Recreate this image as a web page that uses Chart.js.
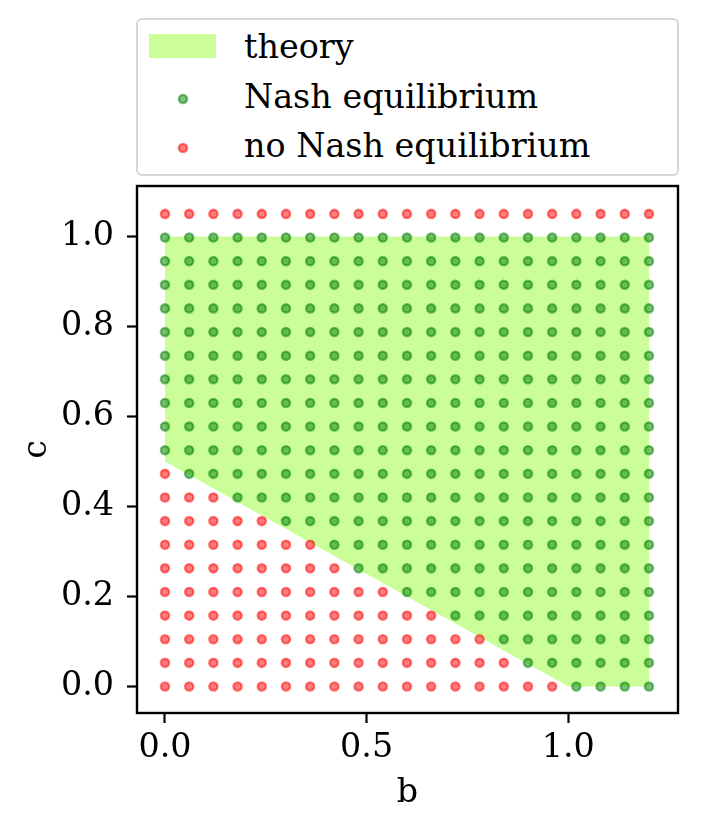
<!DOCTYPE html>
<html>
<head>
<meta charset="utf-8">
<script src="https://cdn.jsdelivr.net/npm/chart.js@4.4.1/dist/chart.umd.min.js"></script>
<style>
  html, body { margin: 0; padding: 0; background: #fff; }
  #wrap { position: relative; width: 701px; height: 829px; }
  #legend {
    position: absolute; left: 136px; top: 18px; width: 539px; height: 154px;
    border: 2px solid #d6d6d6; border-radius: 6px; background: #fff;
    font-family: 'DejaVu Serif', serif; font-size: 33.4px; color: #000;
  }
  #legend .txt { position: absolute; left: 106px; line-height: 33.4px; white-space: nowrap; }
  #legend .patch { position: absolute; left: 11px; top: 14px; width: 67px; height: 24px; }
  #legend svg { position: absolute; width: 14px; height: 14px; }
</style>
</head>
<body>
<div id="wrap">
  <canvas id="nashChart" width="701" height="829"></canvas>
  <div id="legend"></div>
</div>
<script>
// valori della griglia
const bValues = [0.00, 0.06, 0.12, 0.18, 0.24, 0.30, 0.36, 0.42, 0.48, 0.54, 0.60,
                 0.66, 0.72, 0.78, 0.84, 0.90, 0.96, 1.02, 1.08, 1.14, 1.20];
const cValues = [0.0000, 0.0525, 0.1050, 0.1575, 0.2100, 0.2625, 0.3150, 0.3675,
                 0.4200, 0.4725, 0.5250, 0.5775, 0.6300, 0.6825, 0.7350, 0.7875,
                 0.8400, 0.8925, 0.9450, 0.9975, 1.0500];
// per ogni colonna b: prima riga (indice di c) con equilibrio di Nash
const firstNashRow = [10, 9, 9, 8, 8, 7, 7, 6, 5, 5, 4, 4, 3, 3, 2, 1, 1, 0, 0, 0, 0];
// ultima riga con equilibrio (la riga c=1.05 e' tutta senza)
const lastNashRow = 19;

// regione teorica (poligono)
const theoryB = [0, 0, 1.2, 1.2, 1.0];
const theoryC = [0.5, 1.0, 1.0, 0, 0];

const xTicks = [0, 0.5, 1.0];
const yTicks = [0, 0.2, 0.4, 0.6, 0.8, 1.0];

const labels = ['theory', 'Nash equilibrium', 'no Nash equilibrium'];

// separare i punti in due gruppi
const nashPts = [];
const noNashPts = [];
bValues.forEach((b, i) => {
  cValues.forEach((c, j) => {
    if (j >= firstNashRow[i] && j <= lastNashRow) nashPts.push({x: b, y: c});
    else noNashPts.push({x: b, y: c});
  });
});

const theoryPts = theoryB.map((b, k) => ({x: b, y: theoryC[k]}));

const fillColor = 'rgba(124, 252, 0, 0.4)';
const greenCol = 'rgba(0, 128, 0, 0.5)';
const redCol = 'rgba(255, 0, 0, 0.5)';
const font = {family: "'DejaVu Serif', serif", size: 33.4, lineHeight: 1.2};

// cornice attorno all'area del grafico
const frame = {
  id: 'frame',
  afterDraw(chart) {
    const {ctx, chartArea: a} = chart;
    ctx.save();
    ctx.strokeStyle = '#000';
    ctx.lineWidth = 2.4;
    ctx.strokeRect(a.left, a.top, a.right - a.left, a.bottom - a.top);
    ctx.restore();
  }
};

const ctx = document.getElementById('nashChart').getContext('2d');
const myChart = new Chart(ctx, {
  type: 'scatter',
  data: {
    datasets: [
      {
        label: labels[0], type: 'line', data: theoryPts, showLine: true,
        fill: 'shape', backgroundColor: fillColor, borderWidth: 0, pointRadius: 0,
        tension: 0, order: 3
      },
      {
        label: labels[1], data: nashPts, backgroundColor: greenCol, borderColor: greenCol,
        pointRadius: 4.1, borderWidth: 2.4, order: 2
      },
      {
        label: labels[2], data: noNashPts, backgroundColor: redCol, borderColor: redCol,
        pointRadius: 4.1, borderWidth: 2.4, order: 1
      }
    ]
  },
  options: {
    responsive: false,
    animation: false,
    layout: {padding: {top: 186, right: 23, left: 0, bottom: 0}},
    plugins: {legend: {display: false}, tooltip: {enabled: false}},
    scales: {
      x: {
        type: 'linear', min: -0.0694, max: 1.272,
        afterBuildTicks: s => { s.ticks = xTicks.map(v => ({value: v})); },
        afterFit: s => { s.height = 116; },
        ticks: {font: font, color: '#000', padding: 5, callback: v => v.toFixed(1)},
        grid: {drawOnChartArea: false, color: '#000', tickLength: 10, tickWidth: 2.2},
        border: {display: false},
        title: {display: true, text: 'b', font: font, color: '#000', padding: {top: 0, bottom: 16}}
      },
      y: {
        type: 'linear', min: -0.0589, max: 1.112,
        afterBuildTicks: s => { s.ticks = yTicks.map(v => ({value: v})); },
        afterFit: s => { s.width = 137; },
        ticks: {font: font, color: '#000', padding: 13, callback: v => v.toFixed(1)},
        grid: {drawOnChartArea: false, color: '#000', tickLength: 10, tickWidth: 2.2},
        border: {display: false},
        title: {display: true, text: 'c', font: font, color: '#000', padding: {top: 17, bottom: 0}}
      }
    }
  },
  plugins: [frame]
});

// legenda html in stile matplotlib
const legend = document.getElementById('legend');
const rowTops = [10, 60, 109];
const dotSvg = col =>
  `<svg viewBox="0 0 14 14" style="left:-7px;top:-7px"><circle cx="7" cy="7" r="4.1" fill="${col}" stroke="${col}" stroke-width="2.4"/></svg>`;
legend.innerHTML =
  `<div class="patch" style="background:${fillColor}"></div>` +
  `<div style="position:absolute;left:45px;top:${rowTops[1] + 19}px">${dotSvg(greenCol)}</div>` +
  `<div style="position:absolute;left:45px;top:${rowTops[2] + 19}px">${dotSvg(redCol)}</div>` +
  labels.map((t, k) => `<div class="txt" style="top:${rowTops[k]}px">${t}</div>`).join('');
</script>
</body>
</html>
